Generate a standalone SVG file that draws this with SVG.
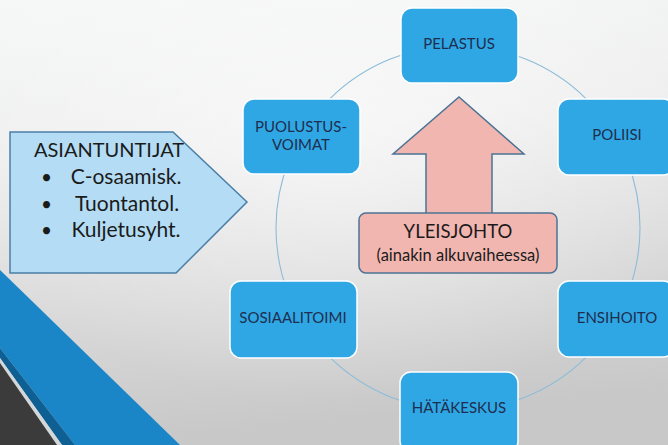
<svg xmlns="http://www.w3.org/2000/svg" width="668" height="445" viewBox="0 0 668 445">
<defs>
<linearGradient id="bg" x1="0" y1="0" x2="0.15" y2="1">
<stop offset="0" stop-color="#f6f7f7"/>
<stop offset="0.35" stop-color="#eeeeef"/>
<stop offset="1" stop-color="#c8c8c8"/>
</linearGradient>
<radialGradient id="glow" cx="0.5" cy="0.3" r="0.6">
<stop offset="0" stop-color="#ffffff" stop-opacity="0.55"/>
<stop offset="1" stop-color="#ffffff" stop-opacity="0"/>
</radialGradient>
<style>
.box{fill:#2fa7e5;stroke:#ffffff;stroke-width:1.5}
.lbl{font-family:Lato,"Open Sans",sans-serif;font-size:15px;fill:#1f2e4e;text-anchor:middle}
.conn{fill:none;stroke:#8cbcd8;stroke-width:1.1}
.pink{fill:#f2b6b0;stroke:#4c7394;stroke-width:1.5}
.dark{font-family:Lato,"Open Sans",sans-serif;fill:#1b1b1b}
</style>
</defs>
<rect width="668" height="445" fill="url(#bg)"/>
<rect width="668" height="445" fill="url(#glow)"/>
<g id="corner">
<polygon points="0,270 180,445 75,445 0,348" fill="#1a86c8"/>
<polygon points="0,348 75,445 62,445 0,358" fill="#0e5f93"/>
<polygon points="0,358 62,445 57,445 0,363" fill="#d3d7da"/>
<polygon points="0,363 57,445 0,445" fill="#3b3b3b"/>
</g>
<g id="connectors">
<circle class="conn" cx="458" cy="228" r="182"/>
</g>
<g id="asiantuntijat">
<polygon points="10,132 173,132 247,202 176,273 10,273" fill="#b4ddf5" stroke="#4b7fa6" stroke-width="1.5"/>
<text class="dark" x="109" y="157" font-size="20" text-anchor="middle">ASIANTUNTIJAT</text>
<text class="dark" x="41" y="184" font-size="19">•</text>
<text class="dark" x="126" y="184" font-size="21" text-anchor="middle">C-osaamisk.</text>
<text class="dark" x="41" y="211" font-size="19">•</text>
<text class="dark" x="127" y="211" font-size="21" text-anchor="middle">Tuontantol.</text>
<text class="dark" x="41" y="237" font-size="19">•</text>
<text class="dark" x="126" y="237" font-size="21" text-anchor="middle">Kuljetusyht.</text>
</g>
<g id="pelastus">
<rect class="box" x="401" y="8" width="117" height="75" rx="11"/>
<text class="lbl" x="459" y="49">PELASTUS</text>
</g>
<g id="poliisi">
<rect class="box" x="558" y="99" width="116" height="76" rx="11"/>
<text class="lbl" x="617" y="140">POLIISI</text>
</g>
<g id="puolustusvoimat">
<rect class="box" x="243" y="99" width="117" height="75" rx="11"/>
<text class="lbl" x="301" y="132">PUOLUSTUS-</text>
<text class="lbl" x="301" y="150">VOIMAT</text>
</g>
<g id="sosiaalitoimi">
<rect class="box" x="230" y="281" width="127" height="77" rx="11"/>
<text class="lbl" x="293" y="323">SOSIAALITOIMI</text>
</g>
<g id="ensihoito">
<rect class="box" x="558" y="281" width="116" height="76" rx="11"/>
<text class="lbl" x="617" y="323">ENSIHOITO</text>
</g>
<g id="hatakeskus">
<rect class="box" x="400" y="372" width="118" height="80" rx="11"/>
<text class="lbl" x="459" y="413">HÄTÄKESKUS</text>
</g>
<g id="yleisjohto">
<polygon class="pink" points="426,214 426,154 393,154 459,97 524,154 492,154 492,214"/>
<rect class="pink" x="359" y="213" width="198" height="60" rx="7"/>
<text class="dark" x="458" y="238" font-size="18.5" text-anchor="middle">YLEISJOHTO</text>
<text class="dark" x="458" y="261" font-size="16.5" text-anchor="middle">(ainakin alkuvaiheessa)</text>
</g>
</svg>
